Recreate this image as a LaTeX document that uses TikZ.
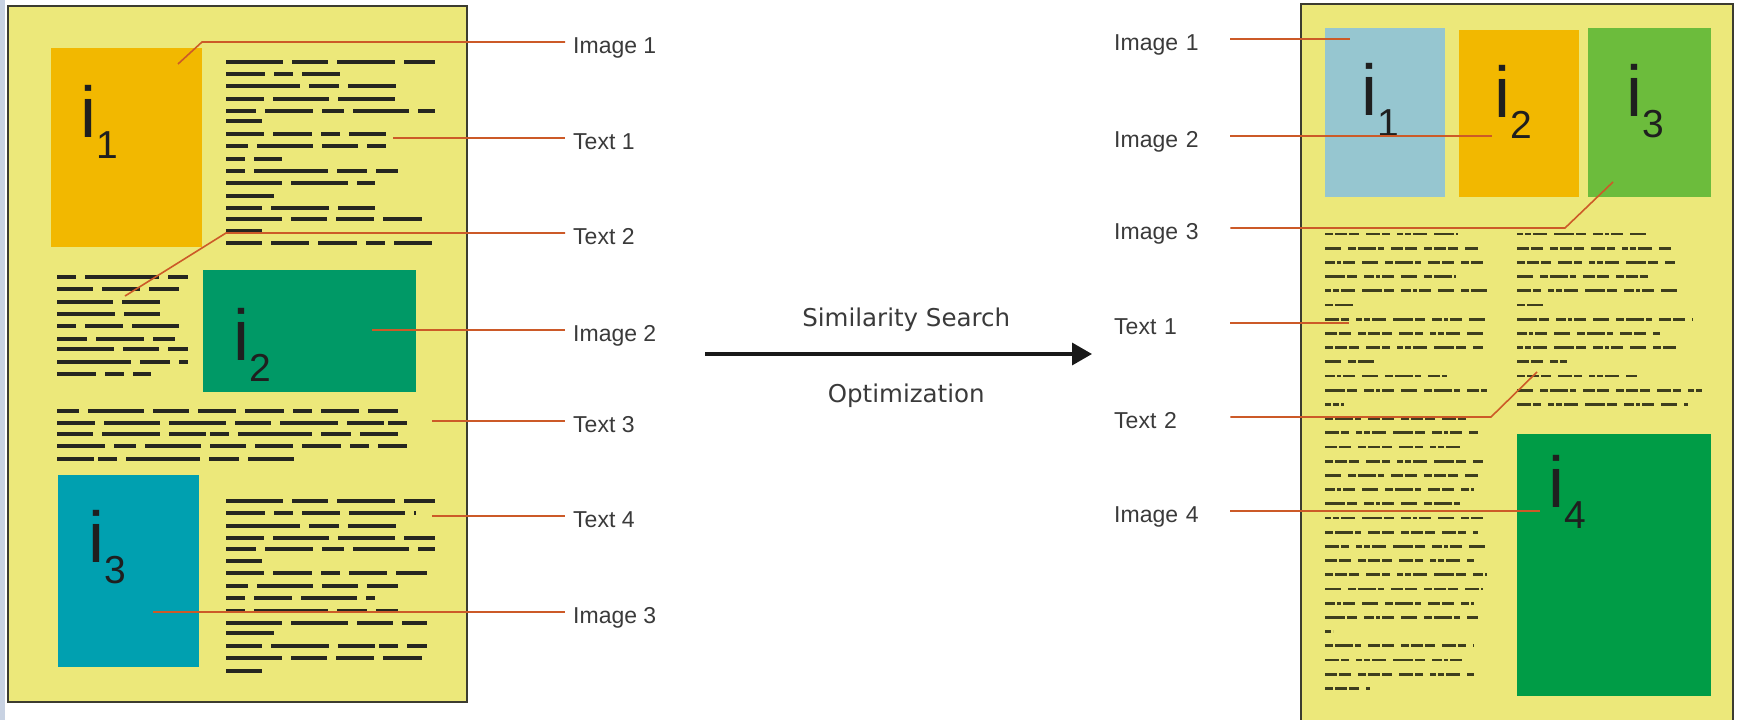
\documentclass[tikz,border=0pt]{standalone}
\usepackage{fontspec}
\setmainfont{Liberation Sans}
\newfontfamily\arrowfont{DejaVu Sans}
\usetikzlibrary{arrows.meta, positioning}
\definecolor{pageyellow}{RGB}{236, 232, 122}
\definecolor{pageedge}{RGB}{60, 60, 48}
\definecolor{leaderred}{RGB}{204, 90, 40}
\definecolor{inkdark}{RGB}{38, 38, 32}
\definecolor{inkolive}{RGB}{62, 62, 30}
\definecolor{labelgray}{RGB}{58, 58, 58}
\definecolor{imgorange}{RGB}{242, 184, 0}
\definecolor{imgteal}{RGB}{0, 160, 176}
\definecolor{imgjade}{RGB}{0, 153, 102}
\definecolor{imgsky}{RGB}{150, 198, 208}
\definecolor{imglime}{RGB}{108, 188, 60}
\definecolor{imggreen}{RGB}{0, 156, 70}
\definecolor{sidebar}{RGB}{200, 210, 226}
\newcommand{\isub}[1]{i\raisebox{-21pt}{\fontsize{39}{39}\selectfont #1}}

\begin{document}
\begin{tikzpicture}[x=1pt, y=-1pt,
        page/.style={fill=pageyellow, draw=pageedge, line width=1.6pt},
        imgbox/.style={rectangle, anchor=north west, inner sep=0pt},
        ilabel/.style={anchor=base west, inner sep=0pt, text=black!88, font=\fontsize{72}{72}\selectfont},
        bigwords/.style={draw=inkdark, line width=4.2pt, dash pattern=on 36pt off 9pt on 38pt off 9pt on 39pt off 9pt on 19pt off 9pt on 38pt off 9pt on 56pt off 9pt on 57pt off 9pt on 36pt off 9pt on 58pt off 9pt on 37pt off 4pt on 19pt off 9pt on 74pt off 9pt on 30pt off 9pt on 48pt off 9pt on 22pt off 9pt on 56pt off 9pt},
        smallwords/.style={draw=inkolive, line width=2.8pt, dash pattern=on 8pt off 2pt on 12pt off 2pt on 10pt off 7pt on 14pt off 2pt on 8pt off 7pt on 6pt off 2pt on 6pt off 2pt on 14pt off 7pt on 20pt off 2pt on 10pt off 7pt on 10pt off 2pt on 4pt off 2pt on 12pt off 7pt on 16pt off 7pt on 8pt off 2pt on 18pt off 2pt on 6pt off 7pt on 12pt off 2pt on 12pt off 7pt},
        leader/.style={draw=leaderred, line width=1.6pt},
        lefttag/.style={anchor=west, inner xsep=8pt, inner ysep=0pt, text height=22.5pt, text depth=0pt, text=labelgray, font=\fontsize{23}{23}\selectfont},
        righttag/.style={anchor=west, inner sep=0pt, text width=116pt, text height=22.5pt, text depth=0pt, text=labelgray, font=\fontsize{23}{23}\selectfont},
        flow/.style={-{Triangle[length=20pt, width=22pt]}, line width=3.5pt, black!90},
        flowtext/.style={inner sep=0pt, text=labelgray, font=\arrowfont\fontsize{24.5}{24.5}\selectfont}]
    \useasboundingbox (0,0) rectangle (1738,720);
    \fill[sidebar] (0,0) rectangle (5,720);

    % original page
    \draw[page] (8,6) rectangle (467,702);
    \foreach \y/\xe [count=\i] in {62/435, 74/348, 86/398, 99/398, 111/435, 121/262, 134/386, 146/386, 159/282, 171/398, 183/375, 196/282, 208/375, 219/427, 231/262, 243/435,
            501/435, 513/416, 526/398, 538/435, 549/435, 561/262, 573/427, 586/398, 598/375, 611/398, 623/427, 633/282, 646/427, 658/427, 671/262}{
        \pgfmathsetmacro{\ph}{{0,280,92,527,168,610,391,45,706,140,499,215,649,346,737,458}[int(mod(\i,16))]}
        \draw[bigwords, dash phase=\ph] (226,\y) -- (\xe,\y);
    }
    \foreach \y/\xe [count=\i] in {277/188, 289/179, 302/160, 314/160, 326/179, 339/179, 349/188, 362/188, 374/151,
            411/398, 423/407, 434/398, 446/407, 459/294}{
        \pgfmathsetmacro{\ph}{{45,499,0,215,391,140,610,280,527,92,706,168,346,649,458,737}[int(mod(\i,16))]}
        \draw[bigwords, dash phase=\ph] (57,\y) -- (\xe,\y);
    }
    \node[imgbox, fill=imgorange, minimum width=151, minimum height=199] (oImg1) at (51,48) {};
    \node[imgbox, fill=imgjade, minimum width=213, minimum height=122] (oImg2) at (203,270) {};
    \node[imgbox, fill=imgteal, minimum width=141, minimum height=192] (oImg3) at (58,475) {};
    \node[ilabel] (oTag1) at (80,137) {\isub{1}};
    \node[ilabel] (oTag2) at (233,360) {\isub{2}};
    \node[ilabel] (oTag3) at (88,562) {\isub{3}};

    \node[lefttag] (lImage1) at (565,42) {Image 1};
    \node[lefttag] (lText1) at (565,138) {Text 1};
    \node[lefttag] (lText2) at (565,233) {Text 2};
    \node[lefttag] (lImage2) at (565,330) {Image 2};
    \node[lefttag] (lText3) at (565,421) {Text 3};
    \node[lefttag] (lText4) at (565,516) {Text 4};
    \node[lefttag] (lImage3) at (565,612) {Image 3};
    \coordinate (pImg1) at (178,64);
    \coordinate (kImg1) at (202,42);
    \coordinate (pTxt1) at (393,138);
    \coordinate (pTxt2) at (125,296);
    \coordinate (kTxt2) at (226,233);
    \coordinate (pImg2) at (372,330);
    \coordinate (pTxt3) at (432,421);
    \coordinate (pTxt4) at (432,516);
    \coordinate (pImg3) at (153,612);
    \draw[leader] (pImg1) -- (kImg1) -- (lImage1.west);
    \draw[leader] (pTxt1) -- (lText1.west);
    \draw[leader] (pTxt2) -- (kTxt2) -- (lText2.west);
    \draw[leader] (pImg2) -- (lImage2.west);
    \draw[leader] (pTxt3) -- (lText3.west);
    \draw[leader] (pTxt4) -- (lText4.west);
    \draw[leader] (pImg3) -- (lImage3.west);

    % transformation
    \coordinate (flowstart) at (705,354);
    \coordinate (flowend) at (1092,354);
    \draw[flow] (flowstart) -- node[flowtext, pos=0.52, above=21pt] (simtext) {Similarity Search}
        node[flowtext, pos=0.52, below=28pt] (opttext) {Optimization} (flowend);

    % optimized page
    \fill[pageyellow] (1301,4) rectangle (1733,720);
    \draw[pageedge, line width=1.6pt] (1301,720) |- (1733,4) -- (1733,720);
    \foreach \xe [count=\i from 0] in {1458, 1478, 1483, 1456, 1487, 1353, 1487, 1483, 1483, 1374, 1447, 1487, 1344, 1466, 1478, 1466, 1483,
            1478, 1474, 1466, 1483, 1478, 1487, 1474, 1487, 1483, 1474, 1478, 1333, 1474, 1466, 1474, 1370}{
        \pgfmathsetmacro{\ph}{{0,109,41,185,72,251,148,208}[int(mod(\i*3,8))]}
        \draw[smallwords, dash phase=\ph] (1325,{234+14.2*\i}) -- (\xe,{234+14.2*\i});
    }
    \foreach \xe [count=\i from 0] in {1649, 1671, 1676, 1648, 1677, 1543, 1693, 1660, 1676, 1567, 1637, 1702, 1688}{
        \pgfmathsetmacro{\ph}{{72,208,0,148,41,251,109,185}[int(mod(\i*5,8))]}
        \draw[smallwords, dash phase=\ph] (1517,{234+14.2*\i}) -- (\xe,{234+14.2*\i});
    }
    \node[imgbox, fill=imgsky, minimum width=120, minimum height=169] (nImg1) at (1325,28) {};
    \node[imgbox, fill=imgorange, minimum width=120, minimum height=167] (nImg2) at (1459,30) {};
    \node[imgbox, fill=imglime, minimum width=123, minimum height=169] (nImg3) at (1588,28) {};
    \node[imgbox, fill=imggreen, minimum width=194, minimum height=262] (nImg4) at (1517,434) {};
    \node[ilabel] (nTag1) at (1361,115) {\isub{1}};
    \node[ilabel] (nTag2) at (1494,117) {\isub{2}};
    \node[ilabel] (nTag3) at (1626,116) {\isub{3}};
    \node[ilabel] (nTag4) at (1548,507) {\isub{4}};

    \node[righttag] (rImage1) at (1114,39) {Image 1};
    \node[righttag] (rImage2) at (1114,136) {Image 2};
    \node[righttag] (rImage3) at (1114,228) {Image 3};
    \node[righttag] (rText1) at (1114,323) {Text 1};
    \node[righttag] (rText2) at (1114,417) {Text 2};
    \node[righttag] (rImage4) at (1114,511) {Image 4};
    \coordinate (qImg1) at (1350,39);
    \coordinate (qImg2) at (1492,136);
    \coordinate (jImg3) at (1565,228);
    \coordinate (qImg3) at (1613,182);
    \coordinate (qTxt1) at (1349,323);
    \coordinate (jTxt2) at (1491,417);
    \coordinate (qTxt2) at (1537,372);
    \coordinate (qImg4) at (1540,511);
    \draw[leader] (rImage1.east) -- (qImg1);
    \draw[leader] (rImage2.east) -- (qImg2);
    \draw[leader] (rImage3.east) -- (jImg3) -- (qImg3);
    \draw[leader] (rText1.east) -- (qTxt1);
    \draw[leader] (rText2.east) -- (jTxt2) -- (qTxt2);
    \draw[leader] (rImage4.east) -- (qImg4);
\end{tikzpicture}
\end{document}
